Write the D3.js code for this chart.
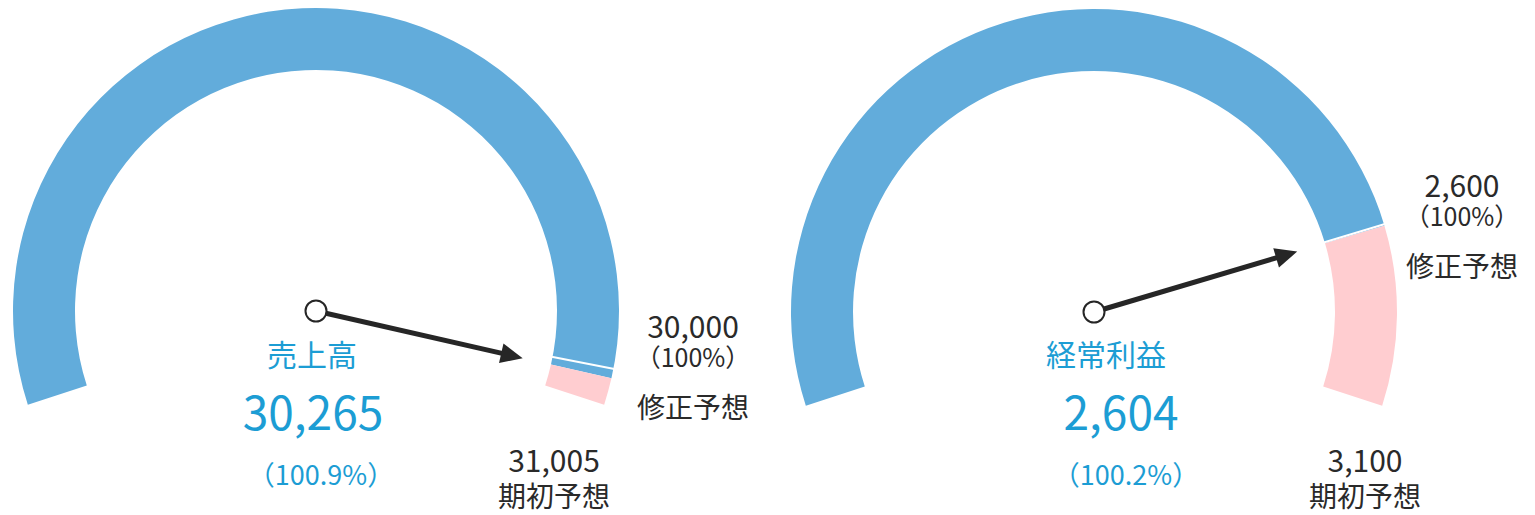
<!DOCTYPE html>
<html lang="ja">
<head>
<meta charset="utf-8">
<script src="https://cdn.jsdelivr.net/npm/d3@7"></script>
<style>
  html, body { margin: 0; padding: 0; background: #fff; }
  svg { display: block; font-family: "Noto Sans CJK JP", "Noto Sans", sans-serif; }
</style>
</head>
<body>
<svg id="chart" width="1535" height="515"></svg>
<script>
// Gauge data
const metrics = ["売上高", "経常利益"];
const actuals = [30265, 2604];      // 実績
const revised = [30000, 2600];      // 修正予想
const initial = [31005, 3100];      // 期初予想 (gauge maximum)
const revisedCaption = "修正予想";
const initialCaption = "期初予想";

// Layout for each gauge
const layout = [
  { cx: 316, cy: 311, titleX: 312, valueX: 313, pctX: 321,
    revX: 693, revNumY: 338, iniX: 554, iniNumY: 472 },
  { cx: 1094, cy: 312, titleX: 1106, valueX: 1121, pctX: 1126,
    revX: 1462, revNumY: 197, iniX: 1365, iniNumY: 472 }
];

const BLUE = "#62acdb";
const PINK = "#ffcdd0";
const TEXT_BLUE = "#1c9dd4";
const TEXT_DARK = "#2a2a2a";
const NEEDLE = "#262626";

const outerR = 303, innerR = 241, needleLen = 212;
const startA = -108 * Math.PI / 180, endA = 108 * Math.PI / 180;

const svg = d3.select("#chart");
const fmt = d3.format(",");
const pctFmt = d3.format(".1f");

metrics.forEach((name, i) => {
  const L = layout[i];
  const angle = d3.scaleLinear().domain([0, initial[i]]).range([startA, endA]);
  const g = svg.append("g").attr("transform", `translate(${L.cx},${L.cy})`);
  const arc = d3.arc().innerRadius(innerR).outerRadius(outerR);

  // achieved portion
  g.append("path")
    .attr("d", arc({ startAngle: angle(0), endAngle: angle(actuals[i]) }))
    .attr("fill", BLUE);
  // remaining portion up to the initial forecast
  g.append("path")
    .attr("d", arc({ startAngle: angle(actuals[i]), endAngle: angle(initial[i]) }))
    .attr("fill", PINK);

  // white tick at the revised forecast
  const ra = angle(revised[i]);
  g.append("line")
    .attr("x1", (innerR - 1) * Math.sin(ra)).attr("y1", -(innerR - 1) * Math.cos(ra))
    .attr("x2", (outerR + 1) * Math.sin(ra)).attr("y2", -(outerR + 1) * Math.cos(ra))
    .attr("stroke", "#fff").attr("stroke-width", 2);

  // needle
  const a = angle(actuals[i]);
  const ux = Math.sin(a), uy = -Math.cos(a);
  const px = -uy, py = ux;
  const headLen = 22, headHalf = 10;
  const baseX = (needleLen - headLen) * ux, baseY = (needleLen - headLen) * uy;
  g.append("line")
    .attr("x1", 0).attr("y1", 0)
    .attr("x2", baseX + ux * 2).attr("y2", baseY + uy * 2)
    .attr("stroke", NEEDLE).attr("stroke-width", 5);
  g.append("path")
    .attr("d", d3.line()([
      [needleLen * ux, needleLen * uy],
      [baseX + px * headHalf, baseY + py * headHalf],
      [baseX - px * headHalf, baseY - py * headHalf]
    ]) + "Z")
    .attr("fill", NEEDLE);
  g.append("circle")
    .attr("r", 10.5)
    .attr("fill", "#fff").attr("stroke", NEEDLE).attr("stroke-width", 2);

  // central labels
  svg.append("text").attr("x", L.titleX).attr("y", 366)
    .attr("text-anchor", "middle").attr("font-size", 30).attr("fill", TEXT_BLUE)
    .text(name);
  svg.append("text").attr("x", L.valueX).attr("y", 430)
    .attr("text-anchor", "middle").attr("font-size", 46).attr("fill", TEXT_BLUE)
    .text(fmt(actuals[i]));
  svg.append("text").attr("x", L.pctX).attr("y", 485)
    .attr("text-anchor", "middle").attr("font-size", 27).attr("fill", TEXT_BLUE)
    .text(`（${pctFmt(actuals[i] / revised[i] * 100)}%）`);

  // revised forecast annotation: value, share, caption stacked
  const rev = svg.append("text").attr("y", L.revNumY)
    .attr("text-anchor", "middle").attr("fill", TEXT_DARK);
  rev.append("tspan").attr("x", L.revX).attr("font-size", 30).text(fmt(revised[i]));
  rev.append("tspan").attr("x", L.revX).attr("dy", 29).attr("font-size", 25).text("（100%）");
  rev.append("tspan").attr("x", L.revX).attr("dy", 51).attr("font-size", 28).text(revisedCaption);

  // initial forecast annotation: value over caption
  const ini = svg.append("text").attr("y", L.iniNumY)
    .attr("text-anchor", "middle").attr("fill", TEXT_DARK);
  ini.append("tspan").attr("x", L.iniX).attr("font-size", 30).text(fmt(initial[i]));
  ini.append("tspan").attr("x", L.iniX).attr("dy", 35).attr("font-size", 28).text(initialCaption);
});
</script>
</body>
</html>
